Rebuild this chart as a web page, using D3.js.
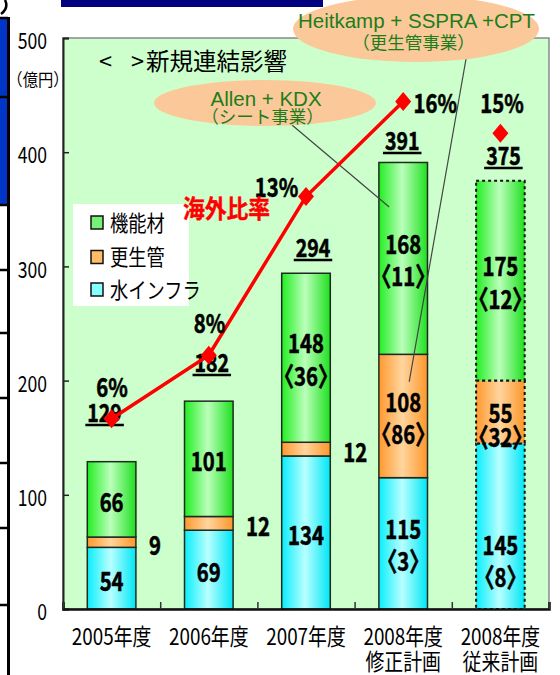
<!DOCTYPE html>
<html><head><meta charset="utf-8">
<script src="https://cdn.jsdelivr.net/npm/d3@7"></script>
<style>
html,body{margin:0;padding:0;background:#fff;}
svg{display:block;}
text{font-family:"Noto Sans CJK JP","Noto Sans",sans-serif;}
</style></head><body>
<svg id="chart" width="560" height="675"></svg>
<script>
// 事業別売上高（億円）と海外比率
const categories = ["2005年度","2006年度","2007年度","2008年度","2008年度"];
const subLabels  = ["","","","修正計画","従来計画"];
const seriesNames = ["水インフラ","更生管","機能材"];
const waterInfra = [54, 69, 134, 115, 145];
const rehabPipe  = [9, 12, 12, 108, 55];
const functional = [66, 101, 148, 168, 175];
const totals     = [129, 182, 294, 391, 375];
// 〈 〉内：新規連結の影響額
const waterNew = [null, null, null, 3, 8];
const pipeNew  = [null, null, null, 86, 32];
const funcNew  = [null, null, 36, 11, 12];
const overseasRatio = [6, 8, 13, 16, 15];
const yTicks = [0, 100, 200, 300, 400, 500];
const ratioMax = 18;

const svg = d3.select("#chart");
const W = 560, H = 675;
const plot = {left: 63, right: 549, top: 38, bottom: 609};

const idx = d3.range(categories.length);
const x = d3.scaleBand().domain(idx).range([plot.left, plot.right])
  .paddingInner(0.5).paddingOuter(0.25);
const y = d3.scaleLinear().domain([0, 500]).range([plot.bottom, plot.top]);
const y2 = d3.scaleLinear().domain([0, ratioMax]).range([plot.bottom, plot.top]);
const bw = x.bandwidth();
const cx = i => x(i) + bw / 2;

// condensed text helper: (x, y) is the anchor on the baseline
function txt(parent, px, py, str, o = {}) {
  const g = parent.append("g")
    .attr("transform", `translate(${px},${py}) scale(${o.sx || 1},1)`);
  const t = g.append("text").text(str)
    .attr("text-anchor", o.anchor || "middle")
    .attr("font-size", o.size || 16)
    .attr("font-weight", o.weight || 400)
    .attr("fill", o.fill || "#000");
  if (o.heavy) t.attr("stroke", o.fill || "#000").attr("stroke-width", o.heavy);
  if (o.family) t.style("font-family", o.family);
  if (o.halt) t.style("font-feature-settings", '"halt"');
  return t;
}

// ---- slide decorations at the edges ----
svg.append("rect").attr("x", 61).attr("y", 0).attr("width", 262).attr("height", 7).attr("fill", "#000080");
svg.append("rect").attr("x", 0).attr("y", 18).attr("width", 8).attr("height", 187).attr("fill", "#0036c8");
svg.append("line").attr("x1", 8.5).attr("x2", 8.5).attr("y1", 17).attr("y2", H)
  .attr("stroke", "#000").attr("stroke-width", 3);
[18, 97, 205, 270, 333, 398, 463, 528, 605].forEach(v => {
  svg.append("line").attr("x1", 0).attr("x2", 8).attr("y1", v).attr("y2", v)
    .attr("stroke", "#000").attr("stroke-width", 2.5);
});
svg.append("path").attr("d", "M5,0 Q9,8 1,14").attr("fill", "none")
  .attr("stroke", "#000").attr("stroke-width", 2.5);

// ---- gradients ----
const defs = svg.append("defs");
const grads = {
  water: ["#08eefc", "#b8ffff", "#00e6f6"],
  pipe:  ["#ff992e", "#ffd59e", "#ff962a"],
  func:  ["#22ee22", "#bbffbb", "#1fe01f"]
};
Object.entries(grads).forEach(([k, c]) => {
  const g = defs.append("linearGradient").attr("id", "g-" + k)
    .attr("x1", "0%").attr("x2", "100%").attr("y1", "0%").attr("y2", "0%");
  g.append("stop").attr("offset", "0%").attr("stop-color", c[0]);
  g.append("stop").attr("offset", "48%").attr("stop-color", c[1]);
  g.append("stop").attr("offset", "100%").attr("stop-color", c[2]);
});

// ---- plot area ----
svg.append("rect").attr("x", plot.left).attr("y", plot.top)
  .attr("width", plot.right - plot.left).attr("height", plot.bottom - plot.top)
  .attr("fill", "#ccffcc").attr("stroke", "#8a8a8a").attr("stroke-width", 1.5);

// ---- stacked bars ----
const keys = ["water", "pipe", "func"];
const table = idx.map(i => ({
  i, water: waterInfra[i], pipe: rehabPipe[i], func: functional[i]
}));
const stacked = d3.stack().keys(keys)(table);
const newVals = {water: waterNew, pipe: pipeNew, func: funcNew};
const planIdx = 4; // 従来計画 is drawn with a dashed outline

const gBars = svg.append("g");
stacked.forEach(layer => {
  gBars.selectAll(null).data(layer).join("rect")
    .attr("x", d => x(d.data.i))
    .attr("y", d => y(d[1]))
    .attr("width", bw)
    .attr("height", d => y(d[0]) - y(d[1]))
    .attr("fill", `url(#g-${layer.key})`)
    .attr("stroke", d => d.data.i === planIdx ? "#111" : "#1e2a1e")
    .attr("stroke-width", d => d.data.i === planIdx ? 2 : 1.5)
    .attr("stroke-dasharray", d => d.data.i === planIdx ? "3,3" : null);
});

// ---- axes ----
const gy = svg.append("g").attr("transform", `translate(${plot.left},0)`)
  .call(d3.axisLeft(y).tickValues(yTicks).tickSize(-6).tickPadding(0).tickFormat(d3.format("d")));
gy.attr("font-family", null).attr("font-size", null);
gy.select(".domain").attr("stroke", "#222").attr("stroke-width", 2);
gy.selectAll(".tick line").attr("stroke", "#222").attr("stroke-width", 1.5);
gy.selectAll(".tick text").attr("x", null).attr("dy", null)
  .attr("transform", "translate(-16,10.6) scale(0.8,1)")
  .attr("font-size", 22).attr("fill", "#000");

const xEdges = d3.scaleLinear().domain([0, categories.length]).range([plot.left, plot.right]);
const gx = svg.append("g").attr("transform", `translate(0,${plot.bottom})`)
  .call(d3.axisBottom(xEdges).tickValues(d3.range(categories.length + 1)).tickSize(-7).tickFormat(""));
gx.select(".domain").attr("stroke", "#111").attr("stroke-width", 2.5);
gx.selectAll(".tick line").attr("stroke", "#333").attr("stroke-width", 1.5);

// category labels
idx.forEach(i => {
  txt(svg, cx(i), 645, categories[i], {size: 23, sx: 0.82});
  if (subLabels[i]) txt(svg, cx(i), 670, subLabels[i], {size: 22.5, sx: 0.84});
});
txt(svg, 15, 86, "（億円）", {size: 17, sx: 0.9, anchor: "start", halt: true});

// ---- callout connectors ----
const gAnno = svg.append("g");
gAnno.append("line").attr("x1", 292).attr("y1", 125)
  .attr("x2", cx(3) - 14).attr("y2", y(352)).attr("stroke", "#444").attr("stroke-width", 1.2);
gAnno.append("line").attr("x1", 466).attr("y1", 59)
  .attr("x2", cx(3) + 6).attr("y2", y(199)).attr("stroke", "#444").attr("stroke-width", 1.2);

// ---- segment labels ----
const numOpt = {size: 26, sx: 0.78, weight: 700, heavy: 0.6};
const nudge = { // [number, bracket] vertical offsets from segment centre
  "4|pipe": [1, 25],
  "4|water": [19, 51]
};
const gLab = svg.append("g");
stacked.forEach(layer => {
  layer.forEach(d => {
    const i = d.data.i, v = d.data[layer.key];
    const c = (y(d[0]) + y(d[1])) / 2;
    const nv = newVals[layer.key][i];
    const base = 0.366 * numOpt.size;
    if (layer.key === "pipe" && nv == null) {
      txt(gLab, x(i) + bw + 13, c + 3.5 + base, v, {...numOpt, anchor: "start"});
    } else if (nv == null) {
      txt(gLab, cx(i), c + 3 + base, v, numOpt);
    } else {
      const off = nudge[i + "|" + layer.key] || [-14, 18.5];
      txt(gLab, cx(i), c + off[0] + base, v, numOpt);
      txt(gLab, cx(i), c + off[1] + base, `〈${nv}〉`, {...numOpt, halt: true});
    }
  });
});

// ---- legend ----
const gLeg = svg.append("g");
gLeg.append("rect").attr("x", 73).attr("y", 204).attr("width", 116).attr("height", 102).attr("fill", "#fff");
const legendItems = [
  {name: seriesNames[2], fill: "#77f077", cy: 222.5},
  {name: seriesNames[1], fill: "#ffbb66", cy: 257},
  {name: seriesNames[0], fill: "#88ffff", cy: 289.5}
];
legendItems.forEach(it => {
  gLeg.append("rect").attr("x", 91).attr("y", it.cy - 6.5).attr("width", 12).attr("height", 13)
    .attr("fill", it.fill).attr("stroke", "#111").attr("stroke-width", 1.5);
  txt(gLeg, 110, it.cy + 8.4, it.name, {size: 22, sx: 0.83, anchor: "start"});
});

// ---- overseas ratio line ----
const gLine = svg.append("g");
gLine.append("path").datum(idx.slice(0, 4))
  .attr("d", d3.line().x(i => cx(i)).y(i => y2(overseasRatio[i])))
  .attr("fill", "none").attr("stroke", "#ff0000").attr("stroke-width", 3.5);
gLine.selectAll(null).data(idx).join("path")
  .attr("d", "M0,-9.5L8,0L0,9.5L-8,0Z")
  .attr("transform", i => `translate(${cx(i)},${y2(overseasRatio[i])})`)
  .attr("fill", "#ff0000");

// ---- totals (underlined) ----
const totalShift = [[-7, -39.7], [3, -29.2], [7, -16.3], [-1, -12.5], [3, -15.8]];
totals.forEach((t, i) => {
  const px = cx(i) + totalShift[i][0], py = y(t) + totalShift[i][1];
  const el = txt(gLab, px, py, t, {size: 25, sx: 0.78, weight: 700, heavy: 0.6});
  const w = el.node().getComputedTextLength() * 0.78;
  gLab.append("line").attr("x1", px - w / 2 - 2).attr("x2", px + w / 2 + 2)
    .attr("y1", py + 3).attr("y2", py + 3).attr("stroke", "#000").attr("stroke-width", 2.5);
});

const ratioShift = [[0.4, -21.7], [0.7, -22.3], [-29.5, 0.4], [32, 11.6], [1.6, -20.2]];
overseasRatio.forEach((p, i) => {
  txt(svg, cx(i) + ratioShift[i][0], y2(p) + ratioShift[i][1], p + "%",
    {size: 26, sx: 0.78, weight: 700, heavy: 0.6});
});
txt(svg, 226.5, 218, "海外比率", {size: 24.5, sx: 0.89, weight: 700, fill: "#ff0000", heavy: 0.4});

// ---- annotations ----
const noteT = svg.append("text").attr("font-size", 23.5).attr("fill", "#000");
noteT.append("tspan").attr("x", 99).attr("y", 69.5).text("<");
noteT.append("tspan").attr("x", 131).attr("y", 69.5).text(">");
noteT.append("tspan").attr("x", 146).attr("y", 69.5).text("新規連結影響");

const green = "#1b7d1b";
gAnno.append("ellipse").attr("cx", 265).attr("cy", 103).attr("rx", 111).attr("ry", 23).attr("fill", "#fbc999");
txt(gAnno, 266, 106, "Allen + KDX", {size: 20.5, family: "'Liberation Sans', Arial, sans-serif", fill: green});
txt(gAnno, 262.5, 123, "（シート事業）", {size: 17.5, fill: green, halt: true});

svg.append("ellipse").attr("cx", 416).attr("cy", 29).attr("rx", 123).attr("ry", 33).attr("fill", "#fbc999");
txt(svg, 416.5, 28, "Heitkamp + SSPRA +CPT", {size: 20.5, family: "'Liberation Sans', Arial, sans-serif", fill: green});
txt(svg, 413.5, 49, "（更生管事業）", {size: 17.5, fill: green, halt: true});
</script>
</body></html>
